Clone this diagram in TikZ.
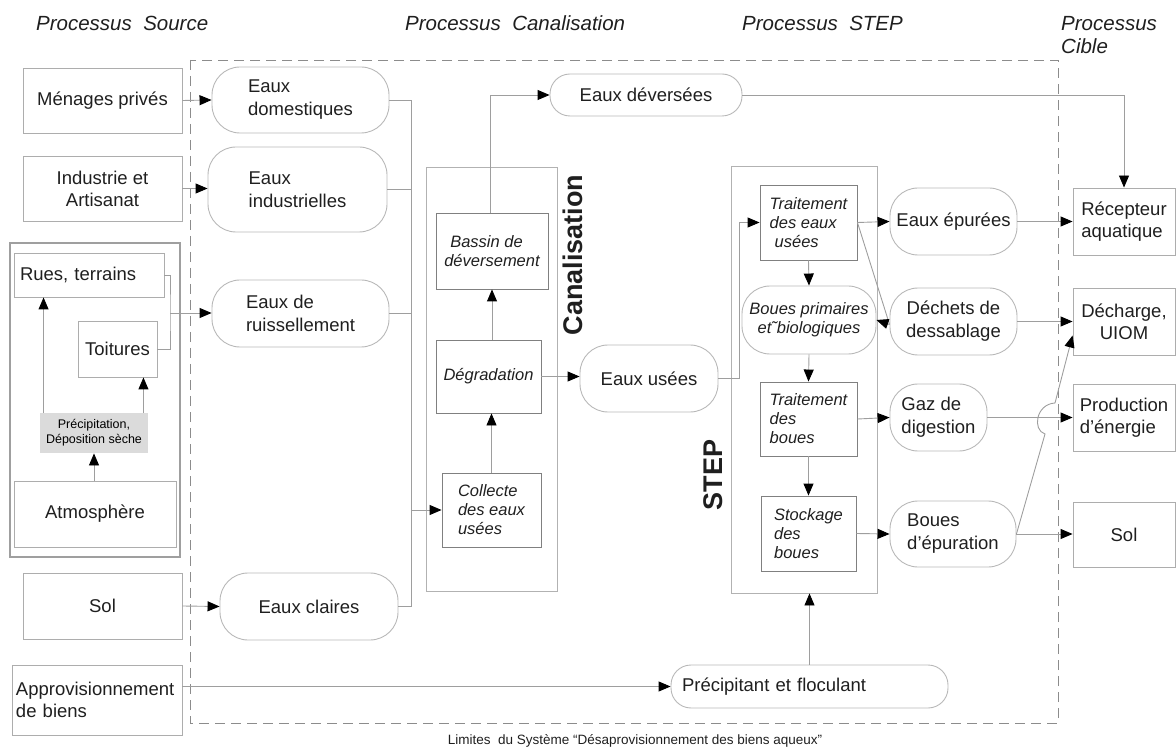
\documentclass[tikz,border=0pt]{standalone}
\usepackage{fontspec}
\setmainfont{Liberation Sans}
\usetikzlibrary{arrows.meta}

\definecolor{txt}{gray}{0.12}
\definecolor{boxgray}{gray}{0.68}
\definecolor{flowgray}{gray}{0.72}
\definecolor{procgray}{gray}{0.50}
\definecolor{framegray}{gray}{0.70}
\definecolor{linegray}{gray}{0.62}
\definecolor{dashgray}{gray}{0.55}
\definecolor{fillgray}{gray}{0.86}

\begin{document}
\begin{tikzpicture}
[
x=1pt, y=-1pt,
source/.style={draw=boxgray, line width=0.9pt, inner sep=0pt, align=center, text=txt, font=\fontsize{18.5}{22}\selectfont},
flow/.style={draw=flowgray, line width=0.9pt, rounded corners=28pt, inner sep=0pt, align=left, text=txt, font=\fontsize{18.5}{23}\selectfont},
proc/.style={draw=procgray, line width=0.9pt, inner sep=0pt, align=left, text=txt, font=\fontsize{16.5}{19}\selectfont\itshape},
frame/.style={draw=framegray, line width=0.9pt, inner sep=0pt},
heading/.style={inner sep=0pt, text=txt, font=\fontsize{20.5}{23}\selectfont\itshape},
vlabel/.style={rotate=90, inner sep=0pt, text=txt, font=\fontsize{27}{30}\selectfont\bfseries},
line/.style={draw=linegray, line width=0.9pt},
arr/.style={color=linegray, line width=0.9pt, -{Triangle[length=12pt,width=10pt,color=black,fill=black]}}
]
\useasboundingbox (0,0) rectangle (1176,751);

%Headings
\node[heading, anchor=base west] (h_source) at (36,31)  {Processus\ \ Source};
\node[heading, anchor=base west] (h_canal)  at (405,31) {Processus\ \ Canalisation};
\node[heading, anchor=base west] (h_step)   at (742,31) {Processus\ \ STEP};
\node[heading, anchor=north west, align=left] (h_cible) at (1061,16.3) {Processus\\Cible};

%System limits
\draw[dashed, dash pattern=on 10pt off 6pt, draw=dashgray, line width=0.9pt] (190,60) rectangle (1058,723);
\node[inner sep=0pt, text=txt, font=\fontsize{13.5}{16}\selectfont] (limites) at (635,741)
  {Limites\ \ du Système “Désaprovisionnement des biens aqueux”};

%Frames
\node[frame, draw=gray!75, line width=1.3pt, minimum width=170, minimum height=314] (ruissel_frame) at (95,400) {};
\node[frame, minimum width=131, minimum height=424] (canal_frame) at (491.5,379) {};
\node[frame, minimum width=146, minimum height=427] (step_frame)  at (804,379.5) {};
\node[vlabel] (canal_lbl) at (573,255) {Canalisation};
\node[vlabel] (step_lbl)  at (713,475) {STEP};

%Nodes: sources
\node[source, minimum width=159, minimum height=65] (menages)   at (102.5,100.5) {Ménages privés};
\node[source, minimum width=159, minimum height=65] (industrie) at (102.5,188.5) {Industrie et\\Artisanat};
\node[source, minimum width=150, minimum height=44, text width=138, align=left] (rues) at (89,275) {Rues, terrains};
\node[source, minimum width=79,  minimum height=56] (toitures)  at (117.5,349)  {Toitures};
\node[source, draw=none, fill=fillgray, text=black, minimum width=108, minimum height=40,
      font=\fontsize{12.5}{15}\selectfont] (precip) at (94,433) {Précipitation,\\Déposition sèche};
\node[source, minimum width=162, minimum height=66] (atmos)     at (95,514)     {Atmosphère};
\node[source, minimum width=159, minimum height=66] (sol_src)   at (102.5,606)  {Sol};
\node[source, minimum width=170, minimum height=70, text width=162, align=left] (approv) at (97,700)
  {Approvisionnement\\de biens};

%Nodes: flows
\node[flow, minimum width=177, minimum height=66] (eaux_dom)   at (300.5,100)   {Eaux\\domestiques};
\node[flow, minimum width=179, minimum height=85] (eaux_ind)   at (297.5,189.5) {Eaux\\industrielles};
\node[flow, minimum width=177, minimum height=67] (eaux_ruis)  at (300.5,313.5) {Eaux de\\ruissellement};
\node[flow, minimum width=178, minimum height=67] (eaux_cl)    at (309,606.5)   {Eaux claires};
\node[flow, rounded corners=20pt, minimum width=192, minimum height=42] (eaux_dev) at (646,95) {Eaux déversées};
\node[flow, minimum width=138, minimum height=67] (eaux_us)    at (649,378.5)   {Eaux usées};
\node[flow, rounded corners=20pt, minimum width=277, minimum height=43, text width=255] (prec_floc) at (809.5,686.5)
  {Précipitant et floculant};
\node[flow, minimum width=127, minimum height=67] (eaux_ep)    at (953.5,221.5) {Eaux épurées};
\node[flow, minimum width=127, minimum height=67, align=center] (dechets) at (953.5,321.5) {Déchets de\\dessablage};
\node[flow, minimum width=134, minimum height=68, align=center, font=\fontsize{16.5}{19}\selectfont\itshape] (boues_prim)
  at (809,320) {Boues primaires\\et˜biologiques};
\node[flow, minimum width=97,  minimum height=67] (gaz)        at (938.5,417.5) {Gaz de\\digestion};
\node[flow, minimum width=126, minimum height=66] (boues_ep)   at (953,534)     {Boues\\d’épuration};

%Nodes: processes
\node[proc, minimum width=112, minimum height=76] (bassin)   at (492,251)     {\hspace{6pt}Bassin de\\déversement};
\node[proc, minimum width=105, minimum height=73] (degrad)   at (488.5,376.5) {Dégradation};
\node[proc, minimum width=99,  minimum height=74] (collecte) at (491.5,510)   {Collecte\\des eaux\\usées};
\node[proc, minimum width=97,  minimum height=75] (trait_eu) at (808.5,222.5) {Traitement\\des eaux\\\hspace{5pt}usées};
\node[proc, minimum width=97,  minimum height=74] (trait_bo) at (808.5,419)   {Traitement\\des\\boues};
\node[proc, minimum width=95,  minimum height=75] (stockage) at (808.5,533.5) {Stockage\\des\\boues};

%Nodes: targets
\node[source, minimum width=102, minimum height=67, align=left] (recepteur) at (1124,221.5) {Récepteur\\aquatique};
\node[source, minimum width=102, minimum height=67] (decharge)  at (1124,321.5) {Décharge,\\UIOM};
\node[source, minimum width=102, minimum height=67, align=left] (production) at (1124,417.5) {Production\\d’énergie};
\node[source, minimum width=102, minimum height=65] (sol_cib)   at (1124,534.5) {Sol};

%Lines: sources
\path[arr]
(menages.east)   edge (eaux_dom.west)
(industrie.east) edge (industrie.east -| eaux_ind.west)
(sol_src.east)   edge (eaux_cl.west)
(approv.east |- prec_floc.west) edge (prec_floc.west)
(precip.south |- atmos.north) edge (precip.south)
([xshift=-5pt]precip.north east) edge ([xshift=-5pt]precip.north east |- toitures.south)
([xshift=4pt]precip.north west)  edge ([xshift=4pt]precip.north west |- rues.south);
\coordinate (ruis_j) at (170,313);
\draw[line] (rues.east) -| (ruis_j) |- (toitures.east);
\draw[arr] (ruis_j) -- (ruis_j -| eaux_ruis.west);

%Lines: canalisation
\coordinate (bus) at (411,0);
\draw[line] (eaux_dom.east) -- (eaux_dom.east -| bus) -- (eaux_cl.east -| bus) -- (eaux_cl.east);
\draw[line] (eaux_ind.east) -- (eaux_ind.east -| bus);
\draw[line] (eaux_ruis.east) -- (eaux_ruis.east -| bus);
\path[arr]
(collecte.west -| bus) edge (collecte.west)
(collecte.north) edge (collecte.north |- degrad.south)
(bassin.south |- degrad.north) edge (bassin.south)
(degrad.east) edge (degrad.east -| eaux_us.west);
\draw[arr] ([xshift=-2pt]bassin.north) |- (eaux_dev.west);
\draw[arr] (eaux_us.east) -- ++(21,0) |- (trait_eu.west);

%Lines: STEP
\path[arr]
(trait_eu.east) edge (eaux_ep.west)
(trait_eu.south) edge (boues_prim.north)
(boues_prim.south) edge (trait_bo.north)
(trait_bo.south) edge (stockage.north)
(trait_bo.east) edge (gaz.west)
(stockage.east) edge (boues_ep.west)
(prec_floc.north) edge (prec_floc.north |- step_frame.south);
\draw[line] (trait_eu.east) -- ([yshift=-3pt]dechets.west);
\draw[arr] ([yshift=-3pt]dechets.west) -- (boues_prim.east);

%Lines: targets
\path[arr]
(eaux_ep.east) edge (eaux_ep.east -| recepteur.west)
(dechets.east) edge (decharge.west)
(gaz.east) edge (production.west)
(boues_ep.east) edge (boues_ep.east -| sol_cib.west);
\draw[arr] (eaux_dev.east) -| (recepteur.north);
\draw[arr] (boues_ep.east) -- (1045,434) .. controls (1032,430) and (1036,404) .. (1055,403) -- ([yshift=-14pt]decharge.west);
\end{tikzpicture}
\end{document}
